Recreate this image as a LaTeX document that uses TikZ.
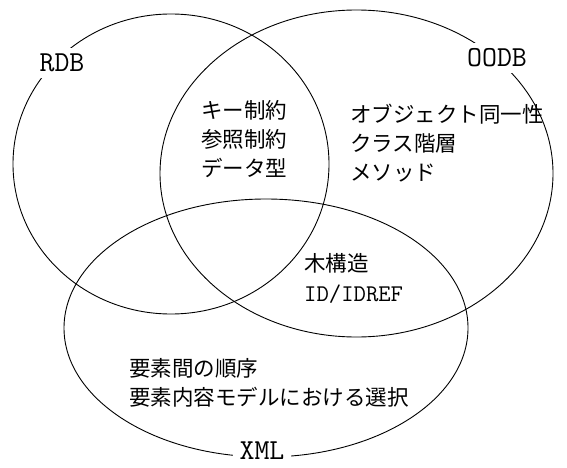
\documentclass[tikz,border=0pt]{standalone}
\usepackage{fontspec}
\newfontfamily\jp{Noto Sans CJK JP}
\usetikzlibrary{shapes.geometric}
\begin{document}
\begin{tikzpicture}[x=1pt,y=-1pt,
  setshape/.style={draw, ellipse, line width=0.9pt, inner sep=0pt},
  setlabel/.style={fill=white, font=\ttfamily\fontsize{29}{29}\selectfont, inner xsep=7pt, inner ysep=1pt},
  jptext/.style={font=\jp\fontsize{21.5}{29}\selectfont, align=left, inner sep=0pt, anchor=west},
  monotext/.style={font=\ttfamily\fontsize{24}{29}\selectfont, inner sep=0pt, anchor=west}
]
\useasboundingbox (0,0) rectangle (567,468);
\node[setshape, minimum width=316pt, minimum height=300pt] (rdb) at (171,164) {};
\node[setshape, minimum width=393pt, minimum height=327pt] (oodb) at (356.5,173.5) {};
\node[setshape, minimum width=404pt, minimum height=258pt] (xml) at (266,328) {};
\node[setlabel, inner ysep=6pt] (rdbl) at (62,63) {RDB};
\node[setlabel, inner ysep=6pt] (oodbl) at (497,58) {OODB};
\node[setlabel] (xmll) at (262,451) {XML};
\node[jptext] (t1) at (201,139) {キー制約\\参照制約\\データ型};
\node[jptext] (t2) at (350,143) {オブジェクト同一性\\クラス階層\\メソッド};
\node[jptext] (t3) at (304,263) {木構造};
\node[monotext] (t4) at (304,294) {ID/IDREF};
\node[jptext] (t5) at (129,383) {要素間の順序\\要素内容モデルにおける選択};
\end{tikzpicture}
\end{document}
